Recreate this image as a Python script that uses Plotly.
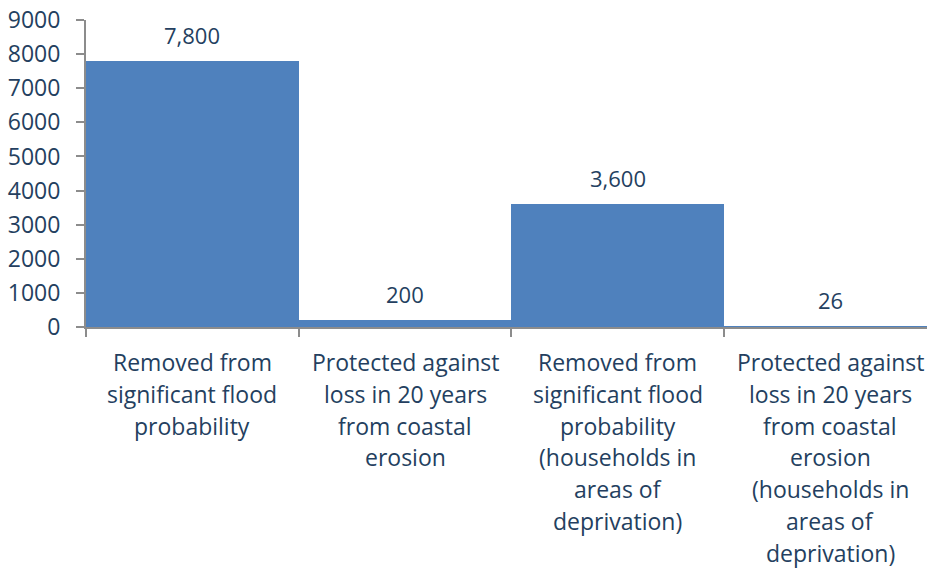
import plotly.graph_objects as go

# Households benefiting, by outcome
categories = [
    "Removed from significant flood probability",
    "Protected against loss in 20 years from coastal erosion",
    "Removed from significant flood probability (households in areas of deprivation)",
    "Protected against loss in 20 years from coastal erosion (households in areas of deprivation)",
]
category_lines = [
    ["Removed from", "significant flood", "probability"],
    ["Protected against", "loss in 20 years", "from coastal", "erosion"],
    ["Removed from", "significant flood", "probability", "(households in", "areas of", "deprivation)"],
    ["Protected against", "loss in 20 years", "from coastal", "erosion", "(households in", "areas of", "deprivation)"],
]
households = [7800, 200, 3600, 26]
value_labels = ["7,800", "200", "3,600", "26"]
y_ticks = [0, 1000, 2000, 3000, 4000, 5000, 6000, 7000, 8000, 9000]

FONT = "Open Sans"
TEXT = "#243F60"
AXIS = "#8C8C8C"
BAR = "#4F81BD"

fig = go.Figure(
    go.Bar(
        x=categories,
        y=households,
        marker=dict(color=BAR, line=dict(width=0)),
        width=1.0,
        hoverinfo="skip",
    )
)

annotations = []
# value labels above each bar
for cat, val, lab in zip(categories, households, value_labels):
    annotations.append(dict(
        x=cat, y=val, xref="x", yref="y", text=lab, showarrow=False,
        yanchor="middle", yshift=26,
        font=dict(family=FONT, size=22, color=TEXT),
    ))
# wrapped category labels under the axis
LINE_STEP = 31.8
for cat, lines in zip(categories, category_lines):
    for j, line in enumerate(lines):
        annotations.append(dict(
            x=cat, y=0, xref="x", yref="paper", text=line, showarrow=False,
            yanchor="middle", yshift=-(35 + j * LINE_STEP),
            font=dict(family=FONT, size=23, color=TEXT),
        ))

fig.update_layout(
    width=927, height=569, autosize=False,
    margin=dict(l=86, r=0, t=20, b=242),
    paper_bgcolor="white", plot_bgcolor="white",
    bargap=0, showlegend=False,
    font=dict(family=FONT, color=TEXT),
    annotations=annotations,
)
fig.update_xaxes(
    type="category",
    range=[-0.5, 3.454],
    showticklabels=False,
    ticks="outside", tickson="boundaries", ticklen=8, tickwidth=1.5, tickcolor=AXIS,
    showline=True, linecolor=AXIS, linewidth=2,
    showgrid=False, zeroline=False, fixedrange=True,
)
fig.update_yaxes(
    range=[0, 9000],
    tickvals=y_ticks, ticktext=[str(v) for v in y_ticks],
    ticks="outside", ticklen=8, tickwidth=1.5, tickcolor=AXIS,
    ticklabelstandoff=11,
    tickfont=dict(family=FONT, size=23, color=TEXT),
    showline=True, linecolor=AXIS, linewidth=2,
    showgrid=False, zeroline=False, fixedrange=True,
)

fig.write_html("out.html", config={"displayModeBar": False})
